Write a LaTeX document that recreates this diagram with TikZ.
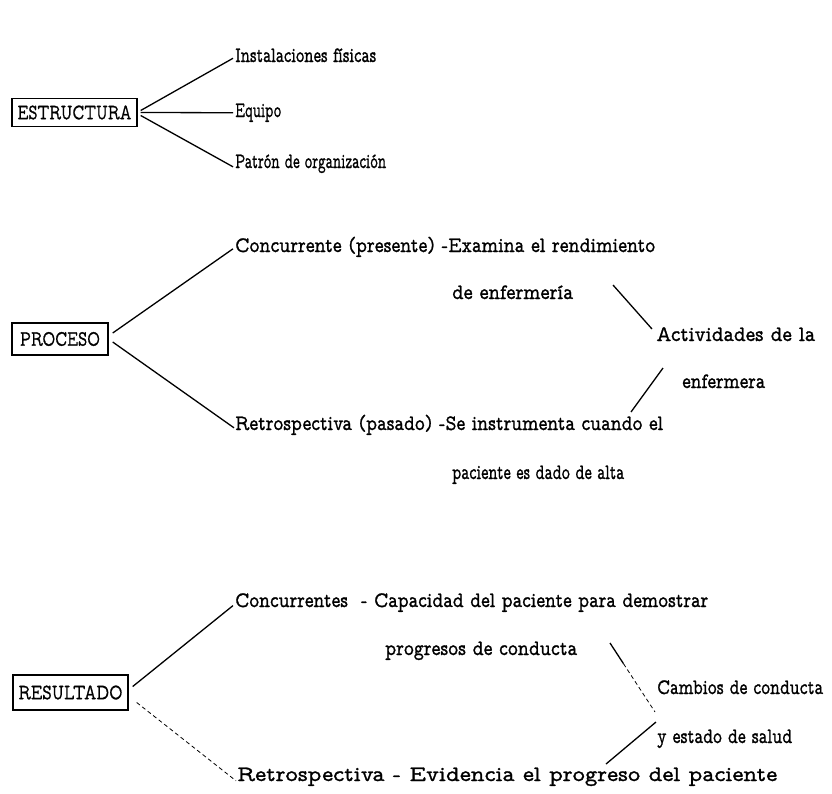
\documentclass[tikz,border=0pt]{standalone}
\usepackage{fontspec}
\newfontfamily\twfont{lmmonoprop10-regular}[Extension=.otf,FakeBold=1.2]
\usetikzlibrary{calc}
\newcommand{\fitw}[2]{\resizebox{#1pt}{\height}{#2}}
\begin{document}
\begin{tikzpicture}[x=1pt,y=-1pt,
  every node/.style={font=\twfont\fontsize{22}{24}\selectfont},
  lbl/.style={anchor=base west,inner sep=0pt},
  boxnode/.style={draw,line width=1.4pt,inner sep=0pt,font=\twfont\fontsize{22}{24}\selectfont},
  conn/.style={line width=1.3pt},
  faint/.style={line width=0.8pt,dash pattern=on 4pt off 3pt}]
\useasboundingbox (0,0) rectangle (832,793);
% ESTRUCTURA
\node[boxnode,minimum width=125pt,minimum height=28pt] (est) at (74.5,112.5) {\fitw{114}{ESTRUCTURA}};
\node[lbl] (ins) at (235,62) {\fitw{141}{Instalaciones físicas}};
\node[lbl] (equ) at (235,117) {\fitw{46}{Equipo}};
\node[lbl] (pat) at (235,168) {\fitw{151}{Patrón de organización}};
\draw[conn] ([xshift=3pt,yshift=2pt]est.east) -- ([xshift=-2pt,yshift=-3pt]ins.west);
\draw[conn] ([xshift=3pt]est.east) -- ([xshift=-2pt]equ.west);
\draw[conn] ([xshift=3pt,yshift=-3pt]est.east) -- ([xshift=-2pt,yshift=-3pt]pat.west);
% PROCESO
\node[boxnode,minimum width=96pt,minimum height=32pt] (pro) at (60,339) {\fitw{80}{PROCESO}};
\node[lbl] (con) at (235,252) {\fitw{420}{Concurrente (presente) -Examina el rendimiento}};
\node[lbl] (enf) at (452,299) {\fitw{121}{de enfermería}};
\node[lbl] (act) at (656,341) {\fitw{159}{Actividades de la}};
\node[lbl] (enf2) at (682,388) {\fitw{83}{enfermera}};
\node[lbl] (ret) at (235,430) {\fitw{428}{Retrospectiva (pasado) -Se instrumenta cuando el}};
\node[lbl] (pac) at (452,479) {\fitw{172}{paciente es dado de alta}};
\draw[conn] ([xshift=4pt,yshift=6pt]pro.east) -- ([xshift=-2pt,yshift=-2pt]con.west);
\draw[conn] ([xshift=4pt,yshift=-3pt]pro.east) -- ([xshift=-1pt,yshift=-3pt]ret.west);
\coordinate (p1) at (613,285);
\coordinate (p2) at (652,329);
\coordinate (p3) at (663,368);
\coordinate (p4) at (631,412);
\draw[conn] (p1) -- (p2);
\draw[conn] (p3) -- (p4);
% RESULTADO
\node[boxnode,minimum width=115pt,minimum height=35pt] (res) at (70.5,692.5) {\fitw{104}{RESULTADO}};
\node[lbl] (cons) at (235,607) {\fitw{473}{Concurrentes\ \ - Capacidad del paciente para demostrar}};
\node[lbl] (prog) at (385,655) {\fitw{192}{progresos de conducta}};
\node[lbl] (cam) at (657,694) {\fitw{166}{Cambios de conducta}};
\node[lbl] (est2) at (657,743) {\fitw{135}{y estado de salud}};
\node[lbl] (rets) at (237,781) {\fitw{540}{Retrospectiva - Evidencia el progreso del paciente}};
\draw[conn] ([xshift=4pt,yshift=6pt]res.east) -- ([xshift=-2pt,yshift=-3pt]cons.west);
\draw[faint] ([xshift=8pt,yshift=-10pt]res.east) -- ([xshift=-1pt,yshift=-4pt]rets.west);
\coordinate (q1) at (610,643);
\coordinate (q2) at (655,712);
\coordinate (q3) at (656,722);
\coordinate (q4) at (606,764);
\draw[conn] (q1) -- ($(q1)!0.3!(q2)$);
\draw[faint] ($(q1)!0.3!(q2)$) -- (q2);
\draw[conn] (q3) -- (q4);
\end{tikzpicture}
\end{document}
